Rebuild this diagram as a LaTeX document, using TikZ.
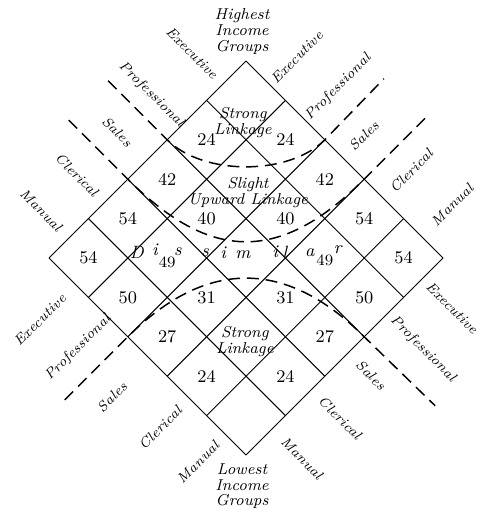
\documentclass[tikz,border=0pt]{standalone}
\usepackage{tikz}
\usetikzlibrary{positioning,calc}
\tikzset{
  gridln/.style ={draw=black,line width=.5pt},
  link/.style   ={draw=black,line width=.75pt,dash pattern=on 6pt off 3.5pt},
  num/.style    ={font=\small,inner sep=1pt},
  sub/.style    ={font=\footnotesize,inner sep=1pt},
  word/.style   ={font=\footnotesize\itshape\linespread{.85}\selectfont,align=center,inner sep=1pt},
  occ/.style    ={font=\scriptsize\itshape,inner sep=1pt},
  letter/.style ={font=\small\itshape,inner sep=0pt},
}

\begin{document}
\begin{tikzpicture}[x=.7cm,y=.7cm]
  \useasboundingbox (-6.244,-6.548) rectangle (6.015,6.548);
  % diamond grid, 5 x 5 cells
  \foreach \k in {0,...,5}{
    \draw[gridln] (-\k,5-\k) -- (5-\k,-\k);
    \draw[gridln] (\k,5-\k) -- (\k-5,-\k);
  }
  % ends of the dashed boundaries
  \coordinate (pA) at (-2,3);    \coordinate (qA) at (2,3);
  \coordinate (pAo) at (-3.5,4.5); \coordinate (qAo) at (3.5,4.55);
  \coordinate (pB) at (-3,2);    \coordinate (qB) at (3,2);
  \coordinate (pBo) at (-4.5,3.5); \coordinate (qBo) at (4.6,3.6);
  \coordinate (pC) at (-3,-2);   \coordinate (qC) at (3,-2);
  \coordinate (pCo) at (-4.6,-3.6); \coordinate (qCo) at (4.8,-3.75);
  \draw[link] (pAo) -- (pA) to[out=-45,in=-135,looseness=.83] (qA) -- (qAo);
  \draw[link] (pBo) -- (pB) to[out=-45,in=-135,looseness=1.28] (qB) -- (qBo);
  \draw[link] (pCo) -- (pC) to[out=45,in=135,looseness=1.2] (qC) -- (qCo);

  \foreach \x/\y/\v [count=\c] in {-1/3/24,1/3/24,-2/2/42,2/2/42,-1/1/40,1/1/40,
      -3/1/54,3/1/54,-4/0/54,4/0/54,-3/-1/50,3/-1/50,-1/-1/31,1/-1/31,
      -2/-2/27,2/-2/27,-1/-3/24,1/-3/24}
    \node[num] (v\c) at (\x,\y) {\v};

  % Dissimilar, spread over the middle row
  \foreach \x/\y/\t [count=\c] in {-2.77/.15/D,-2.31/.2/i,-1.73/.15/s,-1.04/.13/s,
      -.58/.13/i,-.08/.08/m,.74/.15/i,.99/.15/l,1.62/.13/a,2.33/.2/r}
    \node[letter] (d\c) at (\x,\y) {\t};
  \node[sub] (d49a) at (-2.0,-.12) {49};
  \node[sub] (d49b) at (2.0,-.07) {49};

  \node[word] (high) at (-.1,5.74) {Highest\\Income\\Groups};
  \node[word] (low) at (-.1,-5.79) {Lowest\\Income\\Groups};
  \node[word] (strA) at (-.08,3.45) {Strong\\Linkage};
  \node[word] (slight) at (.05,1.65) {Slight\\Upward Linkage};
  \node[word] (strB) at (-.03,-2.13) {Strong\\Linkage};

  \foreach \x/\y/\t [count=\c] in {-1.37/5.2/Executive,-2.4/4.15/Professional,
      -3.27/3.2/Sales,-4.29/2.11/Clerical,-5.2/1.22/Manual}
    \node[occ,rotate=-45] (tl\c) at (\x,\y) {\t};
  \foreach \x/\y/\t [count=\c] in {1.29/5.1/Executive,2.34/4.34/Professional,
      2.99/3.1/Sales,4.19/2.21/Clerical,5.23/1.35/Manual}
    \node[occ,rotate=45] (tr\c) at (\x,\y) {\t};
  \foreach \x/\y/\t [count=\c] in {-5.23/-1.57/Executive,-4.26/-2.28/Professional,
      -3.4/-3.53/Sales,-2.18/-4.31/Clerical,-1.22/-5.18/Manual}
    \node[occ,rotate=45] (bl\c) at (\x,\y) {\t};
  \foreach \x/\y/\t [count=\c] in {5.23/-1.27/Executive,4.49/-2.31/Professional,
      3.17/-2.97/Sales,2.39/-4.06/Clerical,1.42/-5.08/Manual}
    \node[occ,rotate=-45] (br\c) at (\x,\y) {\t};
\end{tikzpicture}
\end{document}
